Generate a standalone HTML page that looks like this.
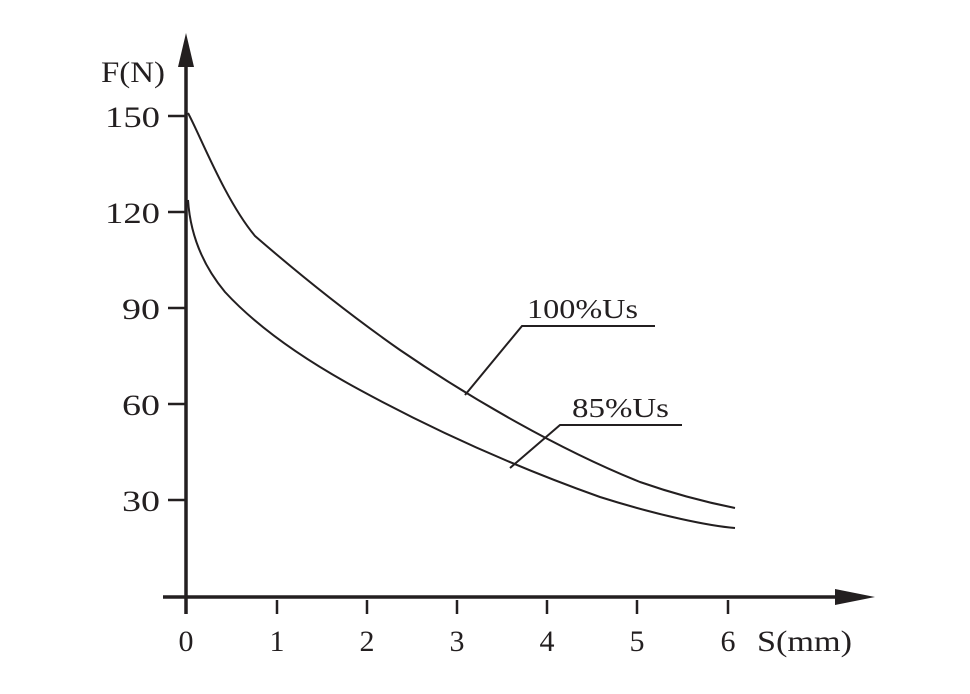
<!DOCTYPE html>
<html><head><meta charset="utf-8"><style>html,body{margin:0;padding:0;background:#fff}</style></head><body>
<svg width="970" height="689" viewBox="0 0 970 689" xmlns="http://www.w3.org/2000/svg" font-family="Liberation Serif, serif" fill="#231f20">
<g stroke="#231f20" fill="none">
<line x1="186" y1="60" x2="186" y2="614" stroke-width="3.5"/>
<line x1="163" y1="597" x2="840" y2="597" stroke-width="3.5"/>
<g stroke-width="2.5">
<line x1="168" y1="116" x2="186" y2="116"/>
<line x1="168" y1="212" x2="186" y2="212"/>
<line x1="168" y1="308" x2="186" y2="308"/>
<line x1="168" y1="404" x2="186" y2="404"/>
<line x1="168" y1="500" x2="186" y2="500"/>
<line x1="277" y1="600" x2="277" y2="614"/>
<line x1="367" y1="600" x2="367" y2="614"/>
<line x1="457" y1="600" x2="457" y2="614"/>
<line x1="547" y1="600" x2="547" y2="614"/>
<line x1="637" y1="600" x2="637" y2="614"/>
<line x1="728" y1="600" x2="728" y2="614"/>
</g>
<g stroke-width="2">
<path d="M188,113 C200,135 225,200 255,236 C300,275 350,315 400,350 C470,398 560,450 640,482 C680,496 710,503 735,508"/>
<path d="M188,200 C190,230 200,262 225,292 C260,330 310,363 360,390 C430,428 510,465 600,497 C660,516 710,526 735,528"/>
<polyline points="465,395 522,326 655,326"/>
<polyline points="510,468 560,425 682,425"/>
</g>
</g>
<polygon points="186,33 178,67 194,67"/>
<polygon points="875,597 835,589 835,605"/>
<g font-size="30">
<text x="105" y="127" textLength="55" lengthAdjust="spacingAndGlyphs">150</text>
<text x="105" y="223" textLength="55" lengthAdjust="spacingAndGlyphs">120</text>
<text x="122" y="319" textLength="38" lengthAdjust="spacingAndGlyphs">90</text>
<text x="122" y="415" textLength="38" lengthAdjust="spacingAndGlyphs">60</text>
<text x="122" y="511" textLength="38" lengthAdjust="spacingAndGlyphs">30</text>
<text x="101" y="82" textLength="64" lengthAdjust="spacingAndGlyphs">F(N)</text>
</g>
<g font-size="30" text-anchor="middle">
<text x="186" y="651">0</text>
<text x="277" y="651">1</text>
<text x="367" y="651">2</text>
<text x="457" y="651">3</text>
<text x="547" y="651">4</text>
<text x="637" y="651">5</text>
<text x="728" y="651">6</text>
</g>
<text x="757" y="651" font-size="30" textLength="95" lengthAdjust="spacingAndGlyphs">S(mm)</text>
<text x="527" y="318" font-size="27" textLength="111" lengthAdjust="spacingAndGlyphs">100%Us</text>
<text x="572" y="417" font-size="27" textLength="97" lengthAdjust="spacingAndGlyphs">85%Us</text>
</svg>
</body></html>
